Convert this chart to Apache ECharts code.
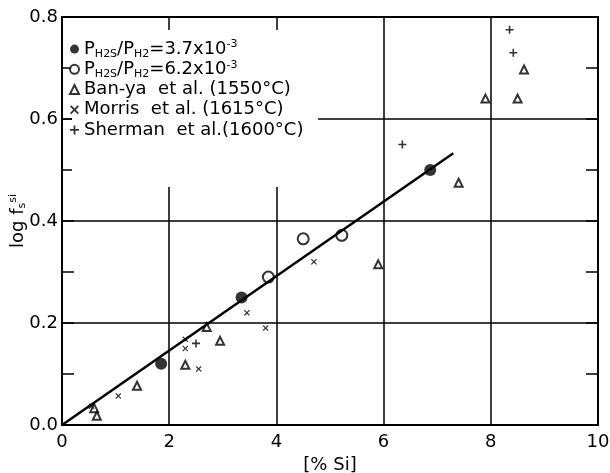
<!DOCTYPE html>
<html>
<head>
<meta charset="utf-8">
<script src="https://cdn.jsdelivr.net/npm/echarts@6/dist/echarts.min.js"></script>
<style>html,body{margin:0;padding:0;background:#fff}#c{width:610px;height:473px}</style>
</head>
<body>
<div id="c"></div>
<script>
// ---- data ----
const xTicks = [0, 2, 4, 6, 8, 10];
const yTicks = [0.0, 0.2, 0.4, 0.6, 0.8];
const filledX = [1.85, 3.35, 6.87];
const filledY = [0.12, 0.25, 0.50];
const openX = [3.85, 4.5, 5.22];
const openY = [0.29, 0.365, 0.372];
const banyaX = [0.6, 0.65, 1.4, 2.3, 2.7, 2.95, 5.9, 7.4, 7.9, 8.5, 8.62];
const banyaY = [0.033, 0.018, 0.077, 0.118, 0.192, 0.165, 0.315, 0.475, 0.64, 0.64, 0.697];
const morrisX = [0.55, 1.05, 2.3, 2.3, 2.55, 3.45, 3.8, 4.7];
const morrisY = [0.037, 0.057, 0.15, 0.168, 0.11, 0.22, 0.19, 0.32];
const shermanX = [2.5, 6.35, 8.35, 8.42];
const shermanY = [0.16, 0.55, 0.775, 0.73];
const lineX = [0, 7.3];
const lineY = [0, 0.533];
const names = ['PH2S/PH2=3.7x10-3', 'PH2S/PH2=6.2x10-3', 'Ban-ya et al.(1550°C)', 'Morris et al.(1615°C)', 'Sherman et al.(1600°C)'];

const zip = (a, b) => a.map((v, i) => [v, b[i]]);
const FONT = 'DejaVu Sans';
const crossPath = 'path://M0,1.4L1.4,0L5,3.6L8.6,0L10,1.4L6.4,5L10,8.6L8.6,10L5,6.4L1.4,10L0,8.6L3.6,5Z';
const plusPath = 'path://M4,0H6V4H10V6H6V10H4V6H0V4H4Z';

const richMap = {};
richMap[names[0]] = '{n|P}{s|H2S}{n|/P}{s|H2}{n|=3.7x10}{p|-3}';
richMap[names[1]] = '{n|P}{s|H2S}{n|/P}{s|H2}{n|=6.2x10}{p|-3}';
richMap[names[2]] = '{n|Ban-ya  et al. (1550°C)}';
richMap[names[3]] = '{n|Morris  et al. (1615°C)}';
richMap[names[4]] = '{n|Sherman  et al.(1600°C)}';

const chart = echarts.init(document.getElementById('c'));
const axisLbl = {color: '#000', fontSize: 18, fontFamily: FONT};
chart.setOption({
  animation: false,
  backgroundColor: '#fff',
  grid: {left: 62, right: 12, top: 17, bottom: 48, show: true, borderColor: '#000', borderWidth: 2,
         backgroundColor: 'transparent', containLabel: false, outerBoundsMode: 'none'},
  graphic: [{type: 'rect', shape: {x: 72, y: 30, width: 246, height: 157}, style: {fill: '#fff'}, z: 3}],
  legend: {
    data: names, orient: 'vertical', left: 64, top: 34, itemGap: 0, itemWidth: 9, itemHeight: 9,
    backgroundColor: 'transparent', z: 5,
    formatter: n => richMap[n],
    textStyle: {
      color: '#000', fontFamily: FONT, fontSize: 18, lineHeight: 20.2,
      rich: {
        n: {fontSize: 18, fontFamily: FONT, color: '#000', lineHeight: 20.2, height: 20.2, verticalAlign: 'middle'},
        s: {fontSize: 11, fontFamily: FONT, color: '#000', lineHeight: 11, verticalAlign: 'bottom'},
        p: {fontSize: 11, fontFamily: FONT, color: '#000', lineHeight: 11, verticalAlign: 'top'}
      }
    }
  },
  xAxis: {
    type: 'value', min: 0, max: 10, interval: 2,
    axisLine: {show: false}, axisTick: {show: false},
    axisLabel: Object.assign({margin: 8, formatter: v => xTicks.includes(v) ? String(v) : ''}, axisLbl),
    splitLine: {show: true, lineStyle: {color: '#000', width: 1.5}},
    name: '[% Si]', nameLocation: 'middle', nameGap: 29,
    nameTextStyle: {color: '#000', fontSize: 18, fontFamily: FONT}
  },
  yAxis: [{
    type: 'value', min: 0, max: 0.8, interval: 0.2,
    axisLine: {show: false},
    axisTick: {show: true, inside: true, length: 12, lineStyle: {color: '#000', width: 1.5}},
    minorTick: {show: true, splitNumber: 2, length: 12, lineStyle: {color: '#000', width: 1.5}},
    axisLabel: Object.assign({margin: 4, formatter: v => yTicks.some(t => Math.abs(t - v) < 1e-9) ? v.toFixed(1) : ''}, axisLbl),
    splitLine: {show: true, lineStyle: {color: '#000', width: 1.5}},
    name: '{a|log f}{s|s}{p|si}', nameLocation: 'middle', nameGap: 34, nameRotate: 90, nameMoveOverlap: false,
    nameTextStyle: {rich: {
      a: {fontSize: 18, fontFamily: FONT, color: '#000', lineHeight: 20, verticalAlign: 'middle'},
      s: {fontSize: 11, fontFamily: FONT, color: '#000', lineHeight: 10, verticalAlign: 'bottom'},
      p: {fontSize: 11, fontFamily: FONT, color: '#000', lineHeight: 10, verticalAlign: 'top'}
    }}
  }, {
    type: 'value', min: 0, max: 0.8, interval: 0.2, position: 'right',
    axisLine: {show: false},
    axisTick: {show: true, inside: true, length: 12, lineStyle: {color: '#000', width: 1.5}},
    minorTick: {show: true, splitNumber: 2, length: 12, lineStyle: {color: '#000', width: 1.5}},
    axisLabel: {show: false}, splitLine: {show: false}
  }],
  series: [
    {name: names[0], type: 'scatter', data: zip(filledX, filledY), symbol: 'circle', symbolSize: 12,
     itemStyle: {color: '#000'}},
    {name: names[1], type: 'scatter', data: zip(openX, openY), symbol: 'emptyCircle', symbolSize: 11,
     itemStyle: {color: '#000', borderColor: '#000', borderWidth: 2}},
    {name: names[2], type: 'scatter', data: zip(banyaX, banyaY), symbol: 'emptyTriangle', symbolSize: 8,
     itemStyle: {color: '#000', borderColor: '#000', borderWidth: 1.8}},
    {name: names[3], type: 'scatter', data: zip(morrisX, morrisY), symbol: crossPath, symbolSize: 6,
     itemStyle: {color: '#000'}},
    {name: names[4], type: 'scatter', data: zip(shermanX, shermanY), symbol: plusPath, symbolSize: 8,
     itemStyle: {color: '#000'}},
    {name: 'fit', type: 'line', data: zip(lineX, lineY), showSymbol: false, symbol: 'none',
     lineStyle: {color: '#000', width: 2.5}, z: 3}
  ]
});
</script>
</body>
</html>
